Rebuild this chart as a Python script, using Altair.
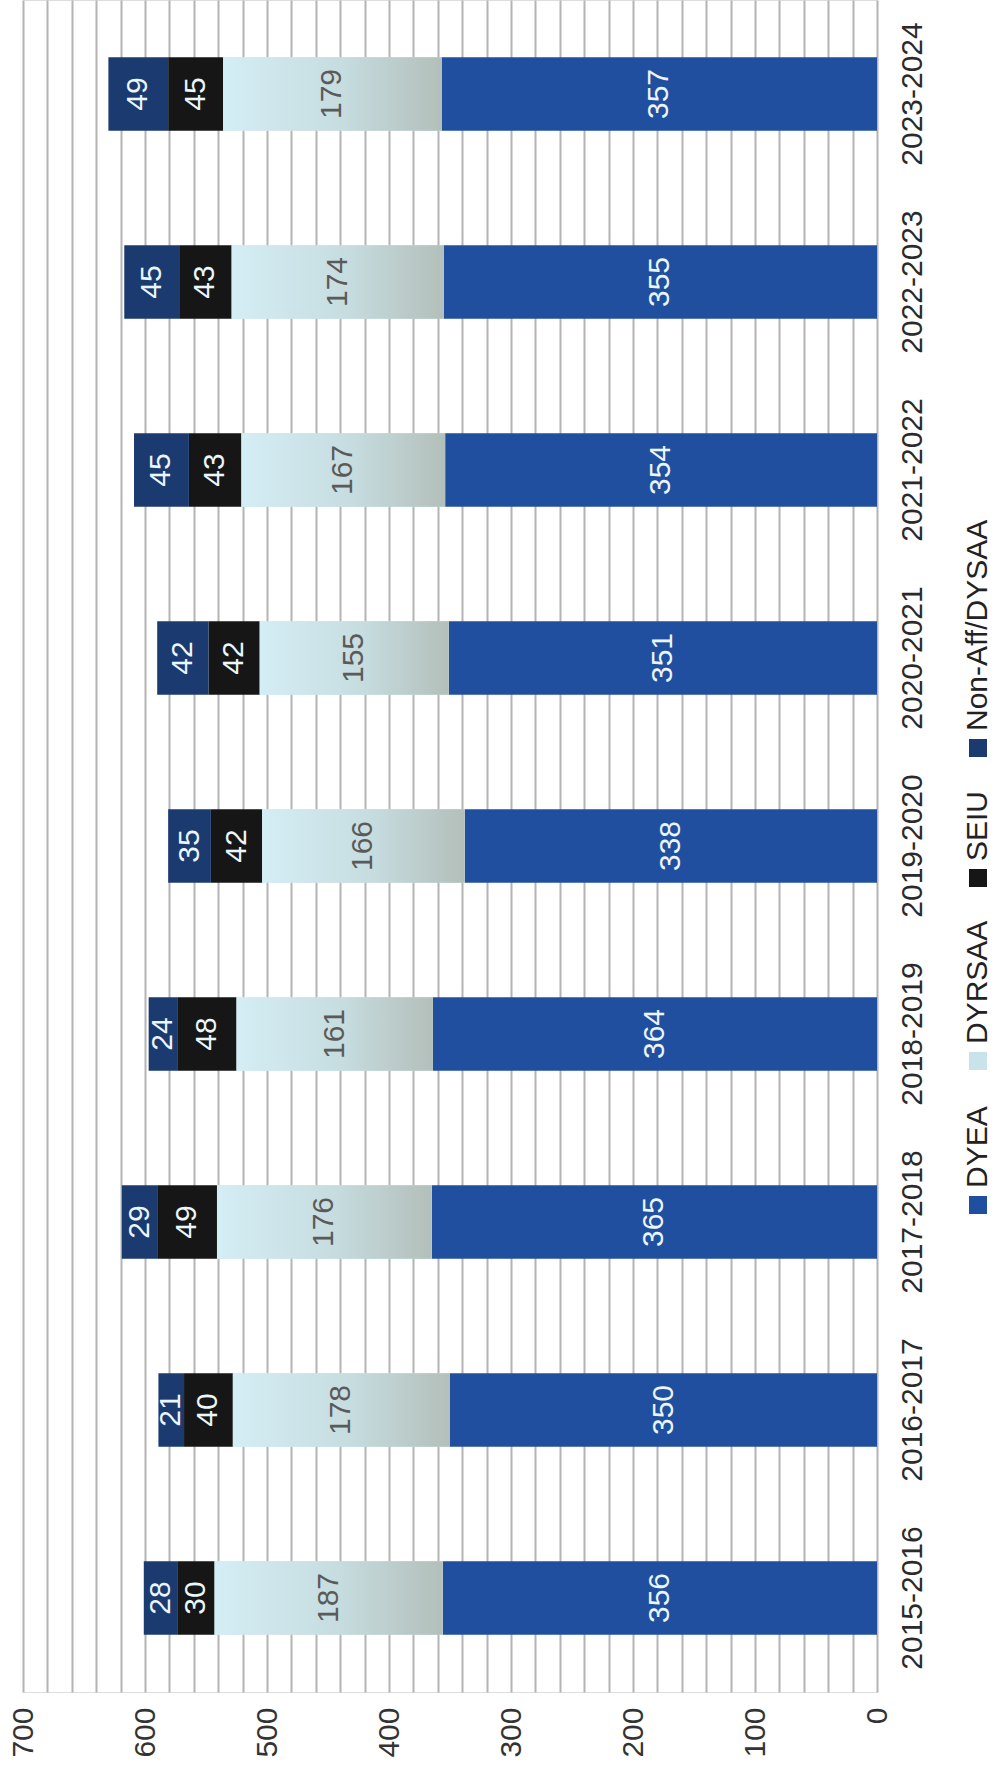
import json
import altair as alt
import pandas as pd

# ---- data ----
years = ["2015-2016", "2016-2017", "2017-2018", "2018-2019", "2019-2020",
         "2020-2021", "2021-2022", "2022-2023", "2023-2024"]
series = ["DYEA", "DYRSAA", "SEIU", "Non-Aff/DYSAA"]
dyea = [356, 350, 365, 364, 338, 351, 354, 355, 357]
dyrsaa = [187, 178, 176, 161, 166, 155, 167, 174, 179]
seiu = [30, 40, 49, 48, 42, 42, 43, 43, 45]
nonaff = [28, 21, 29, 24, 35, 42, 45, 45, 49]
x_ticks = list(range(0, 701, 20))

# ---- styling ----
colors = ["#214f9f", "#c9e3ea", "#161616", "#1b3a70"]
FONT = "Liberation Sans"

rows = []
for s, vals in zip(series, [dyea, dyrsaa, seiu, nonaff]):
    for y, v in zip(years, vals):
        rows.append({"year": y, "series": s, "value": v})
df = pd.DataFrame(rows)

base = (
    alt.Chart(df)
    .transform_calculate(order=f"indexof({json.dumps(series)}, datum.series)")
    .transform_stack(stack="value", groupby=["year"], as_=["x0", "x1"],
                     sort=[alt.SortField("order", "ascending")])
    .transform_calculate(xm="(datum.x0 + datum.x1) / 2")
)

y_axis = alt.Axis(orient="right", labelAngle=270, labelAlign="center",
                  labelBaseline="top", labelFontSize=30, labelColor="#2a2a2a",
                  labelFont=FONT, ticks=False, domain=False, labelPadding=20,
                  title=None, grid=False)
y_scale = alt.Scale(paddingInner=0.61, paddingOuter=0.305)


def y_enc():
    return alt.Y("year:N", sort=list(reversed(years)), scale=y_scale, axis=y_axis)


x_scale = alt.Scale(domain=[0, 700], reverse=True, nice=False)
x_axis = alt.Axis(values=x_ticks,
                  labelExpr="datum.value % 100 === 0 ? datum.label : ''",
                  labelAngle=270, labelAlign="right", labelBaseline="middle",
                  labelFontSize=30, labelColor="#333333", labelFont=FONT,
                  labelFlush=False, labelOverlap=False, labelBound=False,
                  ticks=False, domain=False, labelPadding=15,
                  gridColor="#b4b4b4", gridWidth=2, title=None)


def x_enc(field):
    return alt.X(field, type="quantitative", scale=x_scale, axis=x_axis)


bars = base.mark_bar().encode(
    x=x_enc("x0"),
    x2="x1:Q",
    y=y_enc(),
    color=alt.Color("series:N", scale=alt.Scale(domain=series, range=colors), legend=None),
)

grad = alt.LinearGradient(
    gradient="linear",
    stops=[alt.GradientStop(offset=0, color="#d4eef5"),
           alt.GradientStop(offset=0.55, color="#c6dcdf"),
           alt.GradientStop(offset=1, color="#b3bfba")],
    x1=0, x2=1, y1=0, y2=0,
)
grad_bars = base.transform_filter(alt.datum.series == "DYRSAA").mark_bar(color=grad).encode(
    x=x_enc("x0"), x2="x1:Q", y=y_enc()
)

labels = base.mark_text(angle=270, align="center", baseline="middle",
                        fontSize=30, font=FONT).encode(
    x=x_enc("xm"),
    y=y_enc(),
    text="value:Q",
    color=alt.condition(alt.datum.series == "DYRSAA",
                        alt.value("#5a5a5a"), alt.value("#eaf6fb")),
)

# ---- rotated legend drawn to match the reference ----
legend_x = 955
legend_y = [1205, 1061, 878, 748]
legend_layers = []
for name, col, ly in zip(series, colors, legend_y):
    ldf = pd.DataFrame({"series": [name]})
    legend_layers.append(
        alt.Chart(ldf).mark_square(size=324, color=col, opacity=1).encode(
            x=alt.value(legend_x), y=alt.value(ly))
    )
    legend_layers.append(
        alt.Chart(ldf).mark_text(angle=270, align="left", baseline="middle",
                                 fontSize=30, font=FONT, color="#222222").encode(
            x=alt.value(legend_x), y=alt.value(ly - 17), text="series:N")
    )

chart = (
    alt.layer(bars, grad_bars, labels, *legend_layers)
    .properties(width=854, height=1692,
                padding={"left": 8, "top": 0, "right": 0, "bottom": 5})
    .configure_view(stroke=None)
    .configure_axis(labelOverlap=False)
    .configure(background="white")
)

chart.save("out.html", embed_options={"renderer": "svg", "actions": False})
